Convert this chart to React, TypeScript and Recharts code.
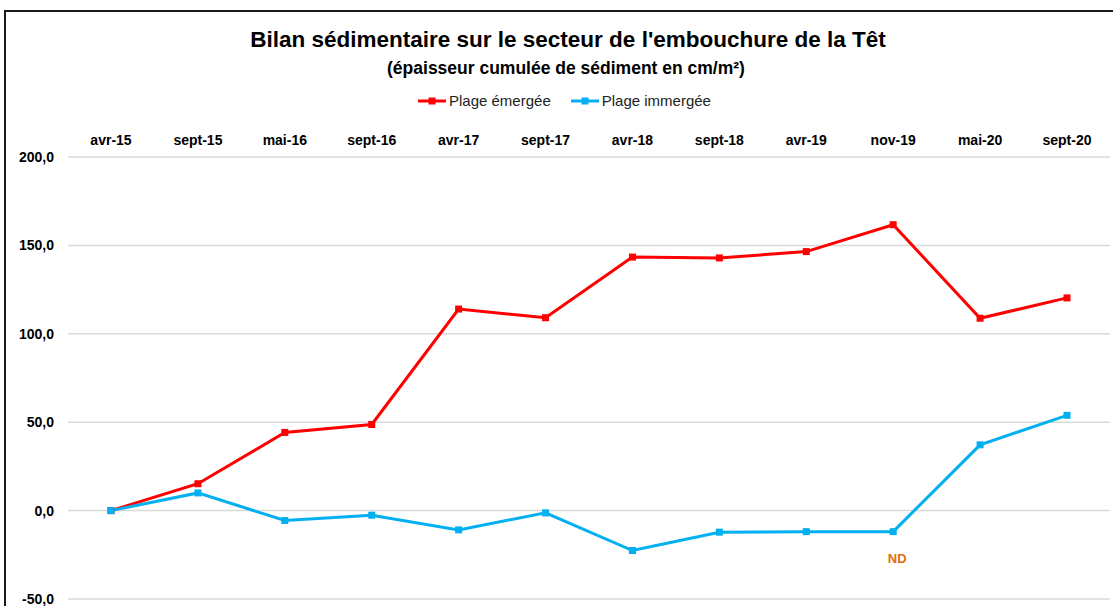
import React from "react";
import {
    CartesianGrid,
    LabelList,
    Line,
    LineChart,
    XAxis,
    YAxis,
} from "recharts";

const dates = [
    "avr-15",
    "sept-15",
    "mai-16",
    "sept-16",
    "avr-17",
    "sept-17",
    "avr-18",
    "sept-18",
    "avr-19",
    "nov-19",
    "mai-20",
    "sept-20",
];

const plageEmergee = [0, 15.2, 44.2, 48.7, 114, 109.1, 143.4, 142.9, 146.5, 161.7, 108.8, 120.3];
const plageImmergee = [0, 10, -5.6, -2.6, -10.9, -1.3, -22.6, -12.2, -11.9, -11.9, 37.2, 53.9];
const immergeeNotes = ["", "", "", "", "", "", "", "", "", "ND", "", ""];

const yTicks = [-50, 0, 50, 100, 150, 200];

const seriesNames = ["Plage émergée", "Plage immergée"];
const RED = "#ff0000";
const BLUE = "#00b0f0";

const data = dates.map((date, i) => ({
    date,
    emergee: plageEmergee[i],
    immergee: plageImmergee[i],
    note: immergeeNotes[i],
}));

const FONT = "'Liberation Sans', Arial, sans-serif";

const fmt = (v: number) => v.toFixed(1).replace(".", ",");

function squareDot(color: string) {
    return (props: any) => {
        const { cx, cy, index } = props;
        if (cx == null || cy == null) return <g key={index} />;
        return (
            <rect
                key={index}
                x={cx - 3.5}
                y={cy - 3.5}
                width={7}
                height={7}
                fill={color}
            />
        );
    };
}

function LegendItem({ color, label }: { color: string; label: string }) {
    return (
        <div style={{ display: "flex", alignItems: "center", marginRight: 20 }}>
            <svg width={28} height={10} style={{ marginRight: 3 }}>
                <line x1={0} y1={5} x2={28} y2={5} stroke={color} strokeWidth={3} />
                <rect x={10.5} y={1.5} width={7} height={7} fill={color} />
            </svg>
            <span>{label}</span>
        </div>
    );
}

export default function App() {
    return (
        <div
            style={{
                position: "absolute",
                left: 0,
                top: 0,
                width: 1113,
                height: 606,
                overflow: "hidden",
                background: "#fff",
                fontFamily: FONT,
            }}
        >
            <div
                style={{
                    position: "absolute",
                    left: 4,
                    top: 10,
                    width: 1130,
                    height: 700,
                    borderTop: "2px solid #1a1a1a",
                    borderLeft: "2px solid #1a1a1a",
                }}
            />
            <div
                style={{
                    position: "absolute",
                    top: 27,
                    left: 0,
                    width: 1136,
                    textAlign: "center",
                    fontSize: 22.5,
                    fontWeight: "bold",
                    color: "#000",
                }}
            >
                Bilan sédimentaire sur le secteur de l'embouchure de la Têt
            </div>
            <div
                style={{
                    position: "absolute",
                    top: 58,
                    left: 0,
                    width: 1132,
                    textAlign: "center",
                    fontSize: 17.5,
                    fontWeight: "bold",
                    color: "#000",
                }}
            >
                (épaisseur cumulée de sédiment en cm/m²)
            </div>
            <div
                style={{
                    position: "absolute",
                    top: 92,
                    left: 418,
                    display: "flex",
                    fontSize: 15,
                    color: "#222",
                }}
            >
                <LegendItem color={RED} label={seriesNames[0]} />
                <LegendItem color={BLUE} label={seriesNames[1]} />
            </div>
            <div style={{ position: "absolute", left: 0, top: 0 }}>
                <LineChart
                    width={1113}
                    height={606}
                    data={data}
                    margin={{ top: 127, right: 3, left: 8, bottom: 7 }}
                >
                    <CartesianGrid vertical={false} stroke="#d9d9d9" strokeWidth={1.5} />
                    <XAxis
                        dataKey="date"
                        orientation="top"
                        height={30}
                        axisLine={false}
                        tickLine={false}
                        tickMargin={6}
                        padding={{ left: 43, right: 43 }}
                        interval={0}
                        tick={{ fontSize: 14, fontWeight: "bold", fill: "#000", fontFamily: FONT }}
                    />
                    <YAxis
                        width={60}
                        domain={[-50, 200]}
                        ticks={yTicks}
                        interval={0}
                        axisLine={false}
                        tickLine={false}
                        tickMargin={8}
                        tickFormatter={fmt}
                        tick={{ fontSize: 14, fontWeight: "bold", fill: "#000", fontFamily: FONT }}
                    />
                    <Line
                        type="linear"
                        dataKey="emergee"
                        name={seriesNames[0]}
                        stroke={RED}
                        strokeWidth={3}
                        dot={squareDot(RED)}
                        isAnimationActive={false}
                    />
                    <Line
                        type="linear"
                        dataKey="immergee"
                        name={seriesNames[1]}
                        stroke={BLUE}
                        strokeWidth={3}
                        dot={squareDot(BLUE)}
                        isAnimationActive={false}
                    >
                        <LabelList
                            dataKey="note"
                            position="bottom"
                            offset={22}
                            dx={4}
                            fill="#e46c0a"
                            fontSize={13}
                            fontWeight="bold"
                            fontFamily={FONT}
                        />
                    </Line>
                </LineChart>
            </div>
        </div>
    );
}
